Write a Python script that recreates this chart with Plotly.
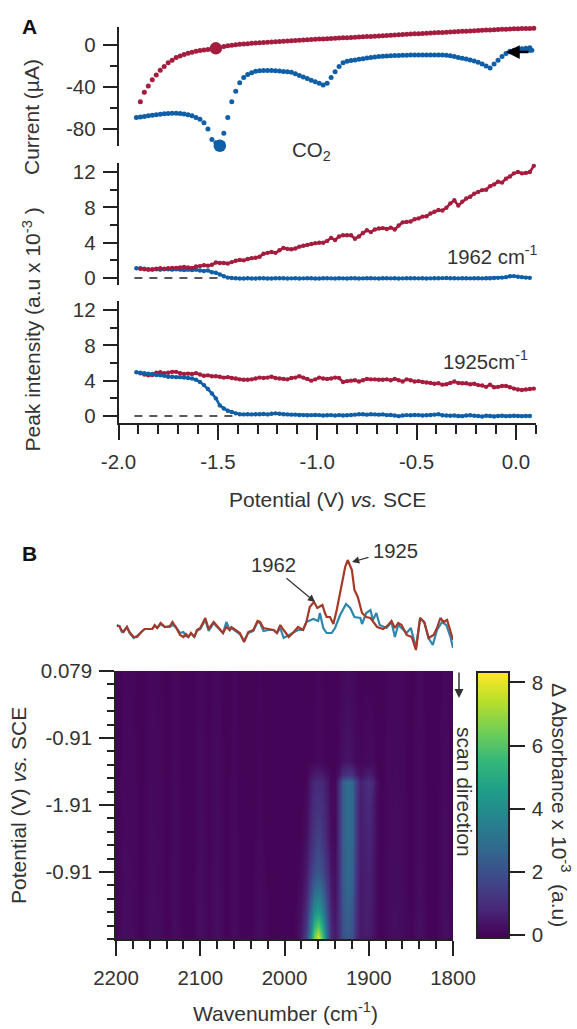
import plotly.graph_objects as go

W, H = 577, 1029
FONT = "Liberation Sans"
TXT = "#333333"
INK = "#222222"
RED = "#A51C3E"
BLUE = "#0F5FA8"
SPEC_RED = "#A53A28"
SPEC_BLUE = "#2F86AE"

potential = [
 -1.91,-1.89,-1.87,-1.85,-1.83,-1.81,-1.79,-1.77,-1.75,-1.73,
 -1.71,-1.69,-1.67,-1.65,-1.63,-1.61,-1.59,-1.57,-1.55,-1.53,
 -1.51,-1.49,-1.47,-1.45,-1.43,-1.41,-1.39,-1.37,-1.35,-1.33,
 -1.31,-1.29,-1.27,-1.25,-1.23,-1.21,-1.19,-1.17,-1.15,-1.13,
 -1.11,-1.09,-1.07,-1.05,-1.03,-1.01,-0.99,-0.97,-0.95,-0.93,
 -0.91,-0.89,-0.87,-0.85,-0.83,-0.81,-0.79,-0.77,-0.75,-0.73,
 -0.71,-0.69,-0.67,-0.65,-0.63,-0.61,-0.59,-0.57,-0.55,-0.53,
 -0.51,-0.49,-0.47,-0.45,-0.43,-0.41,-0.39,-0.37,-0.35,-0.33,
 -0.31,-0.29,-0.27,-0.25,-0.23,-0.21,-0.19,-0.17,-0.15,-0.13,
 -0.11,-0.09,-0.07,-0.05,-0.03,-0.01,0.01,0.03,0.05,0.07,
 0.09]

current_red = [
 None,-54,-45,-39,-33,-28.5,-24,-20.5,-17,-14.5,
 -12,-10.5,-9,-7.8,-6.8,-6,-5.3,-4.7,-4.2,-3.6,
 -3.2,-2.4,-1.5,-0.7,-0.2,0.2,0.6,1,1.3,1.6,
 1.9,2.2,2.4,2.6,2.8,3,3.3,3.5,3.7,4,
 4.2,4.5,4.8,5,5.2,5.4,5.6,5.8,6,6.2,
 6.4,6.6,6.8,7,7.2,7.4,7.6,7.8,8,8.2,
 8.4,8.6,8.8,9,9.2,9.5,9.7,10,10.2,10.4,
 10.6,10.8,11,11.2,11.4,11.6,11.8,12,12.2,12.4,
 12.6,12.8,13,13.2,13.4,13.6,13.8,14,14.2,14.4,
 14.6,14.8,15,15.1,15.3,15.4,15.5,15.6,15.7,15.8,
 15.9]

current_blue = [
 -69,-68.5,-68,-67.5,-67,-66.5,-66,-65.5,-65.2,-65,
 -65,-65.2,-65.8,-66.5,-67.5,-69,-70.8,-74,-80,-90,
 -93,-96,-84,-69,-54,-44,-36,-31,-28,-26.5,
 -25,-24.5,-24.3,-24.2,-24.2,-24.5,-24.8,-25.2,-25.6,-26,
 -27.5,-29,-30.5,-32,-33.5,-35,-36.5,-38,-36.5,-31,
 -25.5,-20.5,-17,-15.5,-14.8,-14.2,-13.6,-13,-12.4,-11.8,
 -11.4,-11,-10.7,-10.4,-10.2,-10,-9.9,-9.8,-9.7,-9.6,
 -9.5,-9.5,-9.5,-9.5,-9.5,-9.5,-9.5,-9.6,-9.8,-10.2,
 -11,-11.8,-12.6,-13.4,-14.2,-15.2,-16.5,-18.2,-20,-22,
 -18,-14.5,-11,-8,-6.5,-5.8,-5.5,-5.2,-5,-5,
 None]

loop_x = [-0.03,-0.01,0.01,0.03,0.05,0.07,0.08]
loop_y = [-6,-5,-4.2,-3.5,-3,-2.6,-5]

peak_current_x = [-1.51, -1.49]
peak_current_y = [-3.2, -96]

i1962_red = [
 None,1.05,1,0.95,0.95,1.05,1.1,1.05,1.1,1.15,
 1.15,1.2,1.25,1.2,1.15,1.3,1.35,1.45,1.4,1.5,
 1.75,1.7,1.7,1.65,1.8,1.95,2.05,2,2.15,2.25,
 2.3,2.4,2.75,2.85,2.95,2.85,3.15,3.4,3.3,3.25,
 3.35,3.55,3.65,3.75,3.85,3.95,4,4,4.2,4.55,
 4.3,4.7,4.85,4.85,4.85,4.45,4.7,5.1,5.4,5.2,
 5.5,5.6,5.65,5.55,5.7,5.5,5.95,6.3,6.35,6.4,
 6.65,6.75,6.95,7,7.3,7.5,7.7,7.65,7.95,8.45,
 8.8,8.2,8.65,9,9.2,9.55,9.75,9.95,10,10.4,
 10.6,10.9,10.8,11.25,11.5,11.85,12,11.85,11.9,12,
 12.7]

i1962_blue = [
 1.1,1.1,1.05,1,1,1,0.95,1,1,0.95,
 1,0.95,0.9,0.95,0.9,0.95,0.85,0.8,0.85,0.65,
 0.6,0.4,0.2,0.05,0,-0.03,-0.05,-0.05,-0.03,-0.05,
 -0.05,-0.03,-0.02,-0.05,-0.05,-0.03,-0.02,-0.03,-0.05,-0.04,
 -0.03,-0.05,-0.04,-0.02,-0.03,-0.05,-0.05,-0.03,-0.02,-0.04,
 -0.05,-0.03,-0.04,-0.05,-0.02,-0.03,-0.05,-0.04,-0.03,-0.02,
 -0.04,-0.05,-0.03,-0.02,-0.04,-0.03,-0.05,-0.04,-0.02,-0.03,
 -0.02,-0.04,-0.03,-0.05,-0.04,-0.02,-0.03,-0.01,0,-0.02,
 -0.03,-0.04,-0.02,-0.03,-0.04,-0.03,-0.02,-0.04,-0.03,-0.02,
 0,0.02,0.05,0.1,0.2,0.22,0.15,0.1,0.05,0.02,
 None]

i1925_red = [
 None,4.83,4.7,4.6,4.65,4.9,4.95,4.85,4.9,5,
 5,4.85,4.75,4.8,4.75,4.85,4.7,4.55,4.6,4.5,
 4.5,4.45,4.35,4.4,4.3,4.25,4.15,4.1,4.1,4.15,
 4.25,4.35,4.3,4.35,4.45,4.3,4.25,4.2,4.15,4.3,
 4.35,4.5,4.35,4.2,4,4.15,4.35,4.25,4.2,4.25,
 4.35,4.3,3.85,3.95,4,4.05,3.9,4.05,4.2,4.15,
 4.15,4.1,4.1,4.15,4.05,4.2,4.05,3.9,4.15,4.05,
 3.9,3.95,3.85,3.8,3.75,3.65,3.7,3.55,3.6,3.75,
 3.9,3.75,3.7,3.7,3.6,3.65,3.5,3.45,3.3,3.55,
 3.25,3.3,3.4,3.4,3.25,3.1,3,2.95,3,3.05,
 3.1]

i1925_blue = [
 4.95,4.9,4.85,4.8,4.75,4.65,4.6,4.55,4.45,4.45,
 4.4,4.4,4.35,4.3,4.25,4.1,3.85,3.5,3.05,2.55,
 2,1.2,0.85,0.6,0.45,0.3,0.2,0.18,0.2,0.18,
 0.2,0.2,0.22,0.18,0.25,0.3,0.25,0.2,0.18,0.15,
 0.15,0.12,0.1,0.08,0.1,0.12,0.1,0.05,0.08,0.1,
 0.05,0.1,0.05,0.08,0.12,0.15,0.2,0.2,0.15,0.2,
 0.18,0.15,0.18,0.1,0.12,0.05,-0.02,0.05,0.1,0.08,
 0.12,0.1,0.05,0.08,0.12,0.15,0.2,0.08,0.05,0.03,
 0.05,0,-0.02,0.05,0.08,0.02,0,-0.05,0.02,0,
 -0.05,0,0.02,-0.02,0,0.02,0,-0.02,0,0,
 None]

spec_red_x = [2199,2196,2193,2191,2187,2184,2179,2175,2170,2166,2160,2157,2154,2151,2147,2142,2136,2133,2129,2124,2120,2117,2114,2111,2107,2104,2100,2094,2090,2084,2081,2073,2069,2065,2063,2057,2053,2048,2043,2037,2032,2029,2025,2019,2013,2009,
 2005,2001,1995,1989,1984,1978,1974,1970,1965,1961,1955,1952,1950,1946,1942,1938,1933,1928,1925,1920,1917,1913,1908,1903,1898,1890,1883,1877,1873,1869,1865,1861,1855,1849,1844,1839,1834,1829,1823,1819,1815,1811,1807,1803,1800]
spec_red_y = [4,4,-1,-2,3,-2,-7,-7,-2,1,1,1,5,2,7,3,4,8,3,-5,-7,-4,-7,-3,-7,0,2,12,1,8,5,-3,3,0,3,-1,-3,-12,-2,0,9,8,2,1,0,-3,
 5,0,-7,-2,3,0,8,23,28,22,25,17,13,13,6,20,40,63,70,60,40,33,17,13,12,3,1,5,9,2,7,5,-5,-7,-20,12,8,-8,-5,2,12,8,10,-2,-10]

spec_blue_x = [2199,2196,2193,2191,2187,2184,2179,2175,2170,2166,2160,2157,2154,2151,2147,2142,2136,2133,2129,2124,2120,2117,2114,2111,2107,2104,2100,2094,2090,2084,2081,2073,2069,2065,2063,2057,2053,2048,2043,2037,2032,2029,2025,2019,2013,2009,
 2005,2001,1995,1984,1978,1974,1966,1960,1958,1954,1950,1944,1940,1934,1927,1922,1917,1910,1908,1903,1898,1895,1891,1887,1879,1873,1869,1865,1855,1850,1844,1839,1834,1829,1824,1819,1813,1808,1803,1800]
spec_blue_y = [5,4,-2,-1,3,-3,-8,-6,-2,1,1,1,4,2,6,3,3,5,3,-3,-2,-6,-7,-3,-7,-1,1,10,-1,7,4,-3,8,0,2,-2,-4,-11,-3,-1,8,7,-1,0,0,-3,
 2,-8,-5,0,0,8,11,9,17,2,-3,-3,2,15,26,22,13,12,6,17,20,10,17,5,2,8,-7,5,-3,2,-18,12,7,-8,-15,0,8,5,-7,-18]

wavenumbers = [2200,2190,2180,2170,2160,2150,2140,2130,2120,2110,2100,2090,2080,2070,2060,2050,2040,2030,2020,2010,2000,
 1990,1985,1980,1975,1970,1965,1960,1955,1950,1945,1940,1935,1930,1925,1920,1915,1910,1905,1900,1895,1890,1885,
 1880,1870,1860,1850,1840,1830,1820,1810,1800]
scan_position = [0,1.35,1.55,1.65,2,2.5,3,3.3,3.6,3.8,4]
delta_abs = [
 [.02,.1,.08,.02,.1,.08,.02,.1,.02,.02,.12,.03,.12,.02,.08,.02,.02,.05,.02,.02,.02, .02,.02,.02,.02,.02,.05,.08,.05,.02,.02,.02,.05,.12,.15,.12,.05,.02,.02,.02,.02,.02,.02, .08,.12,.1,.02,.12,.02,.02,.12,.02],
 [.02,.12,.1,.02,.12,.1,.02,.12,.02,.02,.15,.04,.15,.02,.1,.02,.02,.08,.02,.02,.02, .02,.02,.02,.02,.02,.08,.12,.08,.02,.02,.02,.12,.3,.4,.3,.12,.08,.12,.15,.12,.02,.02, .1,.15,.12,.02,.15,.02,.02,.15,.02],
 [.02,.12,.1,.02,.12,.1,.02,.12,.02,.02,.15,.04,.15,.02,.1,.02,.02,.08,.02,.02,.02, .02,.02,.02,.05,.3,.55,.65,.55,.3,.05,.05,.4,1.05,1.25,1.1,.6,.3,.5,.6,.45,.05,.02, .1,.15,.12,.02,.15,.02,.02,.15,.02],
 [.02,.14,.1,.02,.14,.12,.02,.14,.02,.02,.17,.04,.17,.02,.12,.02,.02,.08,.02,.02,.02, .02,.02,.02,.08,.5,.85,1,.85,.5,.08,.15,1.1,2.5,2.9,2.7,1.5,.7,.9,1.1,.8,.2,.02, .1,.17,.12,.02,.17,.02,.02,.17,.02],
 [.02,.15,.12,.02,.15,.12,.02,.15,.02,.02,.18,.05,.18,.02,.12,.02,.02,.1,.02,.02,.02, .02,.02,.02,.15,.6,1,1.2,1,.6,.15,.15,1.1,2.5,2.9,2.7,1.4,.6,.8,.9,.6,.15,.02, .12,.18,.14,.02,.18,.02,.02,.18,.02],
 [.02,.16,.12,.02,.16,.14,.02,.16,.02,.02,.2,.05,.2,.02,.14,.02,.02,.12,.02,.02,.02, .02,.02,.05,.3,.8,1.3,1.6,1.3,.7,.2,.15,1.1,2.5,2.85,2.65,1.4,.6,.7,.8,.55,.15,.02, .12,.2,.15,.02,.2,.02,.02,.2,.02],
 [.02,.18,.14,.02,.18,.14,.02,.18,.02,.02,.22,.05,.22,.02,.14,.02,.02,.15,.02,.02,.02, .02,.02,.15,.5,1.2,1.9,2.2,1.9,1.1,.4,.25,1.1,2.4,2.8,2.5,1.3,.55,.6,.7,.45,.15,.02, .14,.22,.15,.02,.22,.02,.02,.22,.02],
 [.02,.18,.15,.02,.18,.16,.02,.18,.02,.02,.24,.05,.24,.02,.16,.02,.02,.18,.05,.02,.02, .02,.05,.25,.7,1.7,2.8,3.2,2.7,1.5,.5,.3,1.1,2.3,2.7,2.4,1.2,.5,.6,.7,.45,.15,.02, .14,.22,.16,.02,.24,.02,.02,.24,.02],
 [.02,.2,.15,.02,.2,.16,.02,.2,.02,.02,.26,.05,.26,.02,.16,.02,.02,.2,.05,.02,.02, .02,.12,.35,1,2.4,4,4.6,3.8,2,.7,.4,1.1,2.2,2.5,2.2,1.1,.5,.6,.6,.4,.15,.02, .14,.24,.18,.02,.26,.02,.02,.26,.02],
 [.02,.22,.16,.02,.22,.18,.02,.22,.02,.02,.28,.05,.28,.02,.18,.02,.02,.22,.05,.02,.02, .02,.15,.45,1.2,3,5.3,6.2,5,2.4,.8,.45,1.1,2.1,2.4,2.1,1.1,.5,.6,.6,.4,.15,.02, .14,.24,.18,.02,.28,.02,.02,.28,.02],
 [.02,.24,.18,.02,.24,.2,.02,.24,.02,.02,.3,.05,.3,.02,.2,.02,.02,.25,.05,.02,.02, .02,.15,.55,1.5,3.6,6.6,8,6.2,2.8,.9,.5,1,2,2.2,2,1,.5,.5,.5,.35,.15,.02, .14,.25,.18,.02,.3,.02,.02,.3,.02],
]

colorbar_levels = [-0.06,0.5,1,1.5,2,2.5,3,3.5,4,4.5,5,5.5,6,6.5,7,7.5,8,8.3]
colorbar_ticks = [0, 2, 4, 6, 8]

assert all(len(s) == len(potential) for s in [current_red, current_blue, i1962_red, i1962_blue, i1925_red, i1925_blue])
assert len(spec_red_x) == len(spec_red_y) and len(spec_blue_x) == len(spec_blue_y)
assert all(len(r) == len(wavenumbers) for r in delta_abs)

x_ticks = [-2.0, -1.5, -1.0, -0.5, 0.0]
x_labels = ["-2.0", "-1.5", "-1.0", "-0.5", "0.0"]
y1_ticks, y1_labels = [0, -40, -80], ["0", "-40", "-80"]
y2_ticks, y2_labels = [0, 4, 8, 12], ["0", "4", "8", "12"]
hm_y_ticks, hm_y_labels = [0, 1, 2, 3], ["0.079", "-0.91", "-1.91", "-0.91"]
hm_x_ticks = [2200, 2100, 2000, 1900, 1800]

def fx(p): return p / W
def fy(p): return 1 - p / H

fig = go.Figure()
L, R = 118.5, 535.8

def scat(x, y, color, xa, ya, size=5, line=False):
    fig.add_trace(go.Scatter(x=x, y=y, mode="lines+markers" if line else "markers",
                             marker=dict(color=color, size=size, line_width=0),
                             line=dict(color=color, width=2.6),
                             xaxis=xa, yaxis=ya, cliponaxis=False, showlegend=False, hoverinfo="skip"))

def dashed(x, xa, ya):
    fig.add_trace(go.Scatter(x=x, y=[0, 0], mode="lines", line=dict(color=INK, width=1.6, dash="8px,7px"),
                             xaxis=xa, yaxis=ya, showlegend=False, hoverinfo="skip"))

scat(potential, current_red, RED, "x", "y")
scat(potential, current_blue, BLUE, "x", "y")
scat(loop_x, loop_y, BLUE, "x", "y")
scat(peak_current_x[:1], peak_current_y[:1], RED, "x", "y", 12.5)
scat(peak_current_x[1:], peak_current_y[1:], BLUE, "x", "y", 12.5)

dashed([-1.92, -1.5], "x2", "y2")
scat(potential, i1962_blue, BLUE, "x2", "y2", 4.4, True)
scat(potential, i1962_red, RED, "x2", "y2", 4.4, True)

dashed([-1.92, -1.4], "x3", "y3")
scat(potential, i1925_red, RED, "x3", "y3", 4.4, True)
scat(potential, i1925_blue, BLUE, "x3", "y3", 4.4, True)

fig.add_trace(go.Scatter(x=spec_blue_x, y=spec_blue_y, mode="lines", line=dict(color=SPEC_BLUE, width=2.2),
                         xaxis="x4", yaxis="y4", showlegend=False, hoverinfo="skip"))
fig.add_trace(go.Scatter(x=spec_red_x, y=spec_red_y, mode="lines", line=dict(color=SPEC_RED, width=2.2),
                         xaxis="x4", yaxis="y4", showlegend=False, hoverinfo="skip"))

fig.add_trace(go.Heatmap(x=wavenumbers, y=scan_position, z=delta_abs, colorscale="Viridis", zmin=-0.06, zmax=8.3,
                         zsmooth="best", xaxis="x5", yaxis="y5", hoverinfo="skip", showscale=False))
fig.add_trace(go.Heatmap(x=[0, 1], y=colorbar_levels, z=[[v, v] for v in colorbar_levels], colorscale="Viridis",
                         zmin=-0.06, zmax=8.3, zsmooth="best", xaxis="x6", yaxis="y6", hoverinfo="skip", showscale=False))

font = dict(family=FONT, size=20.5, color=TXT)
hidden_x = dict(range=[-2, 0.1], domain=[fx(L), fx(R)], visible=False)

def left_axis(top, bottom, rng, vals, labels, minor_step, xanchor):
    return dict(domain=[fy(bottom), fy(top)], range=rng, tickmode="array", tickvals=vals, ticktext=labels,
                ticks="outside", ticklen=14, tickwidth=1.5, tickcolor=INK, showline=True, linecolor=INK, linewidth=1.5,
                showgrid=False, zeroline=False, tickfont=font, anchor=xanchor, automargin=False, ticklabelstandoff=3,
                minor=dict(tickmode="linear", tick0=0, dtick=minor_step, ticks="outside", ticklen=7, tickwidth=1.5,
                           tickcolor=INK, showgrid=False))

fig.update_layout(
    width=W, height=H, margin=dict(l=0, r=0, t=0, b=0, pad=0, autoexpand=False), paper_bgcolor="white",
    plot_bgcolor="rgba(0,0,0,0)", showlegend=False,
    xaxis=dict(hidden_x, anchor="y"),
    yaxis=left_axis(27, 146, [-96.2, 17.14], y1_ticks, y1_labels, 20, "x"),
    xaxis2=dict(hidden_x, anchor="y2"),
    yaxis2=left_axis(163, 285, [-0.79, 13.02], y2_ticks, y2_labels, 2, "x2"),
    xaxis3=dict(range=[-2, 0.1], domain=[fx(L), fx(R)], anchor="y3", tickmode="array", tickvals=x_ticks,
                ticktext=x_labels, ticks="outside", ticklen=15, tickwidth=1.5, tickcolor=INK, showline=True,
                linecolor=INK, linewidth=1.5, showgrid=False, zeroline=False, tickfont=font, ticklabelstandoff=5,
                minor=dict(tickmode="linear", tick0=-2, dtick=0.1, ticks="outside", ticklen=9, tickwidth=1.5,
                           tickcolor=INK, showgrid=False)),
    yaxis3=left_axis(301, 423, [-0.793, 13.02], y2_ticks, y2_labels, 2, "x3"),
    xaxis4=dict(range=[2200, 1800], domain=[fx(116), fx(453)], visible=False, anchor="y4"),
    yaxis4=dict(range=[-30, 80], domain=[fy(660), fy(550)], visible=False, anchor="x4"),
    xaxis5=dict(range=[2200, 1800], domain=[fx(116), fx(453)], anchor="y5", tickmode="array", tickvals=hm_x_ticks,
                ticktext=[str(v) for v in hm_x_ticks], ticks="outside", ticklen=15, tickwidth=1.5, tickcolor=INK,
                showline=True, linecolor=INK, linewidth=1.5, showgrid=False, zeroline=False, tickfont=font,
                ticklabelstandoff=5,
                minor=dict(tickmode="linear", tick0=1800, dtick=20, ticks="outside", ticklen=8, tickwidth=1.5,
                           tickcolor=INK, showgrid=False)),
    yaxis5=dict(range=[4, 0], domain=[fy(939), fy(671)], anchor="x5", tickmode="array", tickvals=hm_y_ticks,
                ticktext=hm_y_labels, ticks="outside", ticklen=15, tickwidth=1.5, tickcolor=INK, showline=True,
                linecolor=INK, linewidth=1.5, showgrid=False, zeroline=False, tickfont=font, ticklabelstandoff=3,
                minor=dict(tickmode="linear", tick0=0, dtick=0.2, ticks="outside", ticklen=7, tickwidth=1.5,
                           tickcolor=INK, showgrid=False)),
    xaxis6=dict(range=[0, 1], domain=[fx(478), fx(508)], anchor="y6", showticklabels=False, ticks="", showline=True,
                mirror=True, linecolor=INK, linewidth=1.5, showgrid=False, zeroline=False),
    yaxis6=dict(range=[-0.06, 8.3], domain=[fy(937), fy(673)], anchor="x6", side="right", tickmode="array",
                tickvals=colorbar_ticks, ticktext=[str(v) for v in colorbar_ticks], ticks="outside", ticklen=15,
                tickwidth=1.5, tickcolor=INK, showline=True, mirror=True, linecolor=INK, linewidth=1.5, showgrid=False,
                zeroline=False, tickfont=font, ticklabelstandoff=3),
)

def label(text, x, y, size=21, angle=0, color=TXT, weight=None):
    f = dict(family=FONT, size=size, color=color)
    if weight:
        f["weight"] = weight
    fig.add_annotation(text=text, xref="paper", yref="paper", x=fx(x), y=fy(y), xanchor="center", yanchor="middle",
                       showarrow=False, textangle=angle, font=f)

def arrow(x, y, dx, dy, width=1.2, size=1.2, color="#333333"):
    fig.add_annotation(text="", xref="paper", yref="paper", x=fx(x), y=fy(y), ax=dx, ay=dy, axref="pixel", ayref="pixel",
                       showarrow=True, arrowhead=2, arrowwidth=width, arrowsize=size, arrowcolor=color)

label("A", 29, 27, 21, color="#111111", weight="bold")
label("B", 29, 553, 21, color="#111111", weight="bold")
label("Current (µA)", 32, 117, angle=-90)
label("Peak intensity (a.u x 10<sup>-3</sup> )", 31.5, 330, angle=-90)
label("CO<sub>2</sub>", 311, 151, 20.5)
label("1962 cm<sup>-1</sup>", 492, 255, 20.3)
label("1925cm<sup>-1</sup>", 485.5, 360, 20.3)
label("Potential (V) <i>vs.</i> SCE", 327, 500)
label("1962", 273, 565, 20.3)
label("1925", 395, 551, 20.3)
label("Potential (V) <i>vs.</i> SCE", 18, 806, angle=-90)
label("scan direction", 465, 792, angle=90)
label("Wavenumber (cm<sup>-1</sup>)", 285, 1012)
label("Δ Absorbance x 10<sup>-3</sup>  (a.u)", 561, 805, angle=90)

arrow(315, 602, -30, -25)
arrow(352, 562, 18, -5)
arrow(459, 698, 0, -27, width=1.5)
arrow(506, 52, 24, 0, width=2.5, size=1.1, color="#000000")

fig.write_html("out.html", config=dict(displayModeBar=False), post_script="document.body.style.margin='0';")
